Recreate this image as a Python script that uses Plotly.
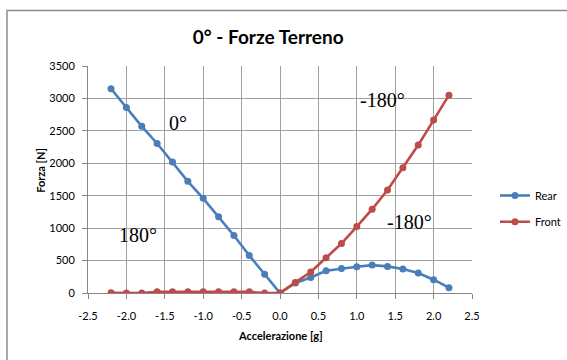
import plotly.graph_objects as go

# Acceleration values [g] shared by both series
accel = [-2.2, -2.0, -1.8, -1.6, -1.4, -1.2, -1.0, -0.8, -0.6, -0.4, -0.2, 0.0,
         0.2, 0.4, 0.6, 0.8, 1.0, 1.2, 1.4, 1.6, 1.8, 2.0, 2.2]

# Ground forces [N]
rear = [3150, 2860, 2570, 2305, 2020, 1722, 1460, 1174, 886, 579, 290, 0,
        155, 240, 343, 379, 405, 430, 410, 370, 308, 205, 82]
front = [5, 0, 0, 18, 18, 18, 18, 18, 18, 18, 0, 0,
         163, 323, 543, 763, 1025, 1292, 1589, 1932, 2281, 2666, 3050]

x_ticks = [-2.5, -2.0, -1.5, -1.0, -0.5, 0.0, 0.5, 1.0, 1.5, 2.0, 2.5]
y_ticks = [0, 500, 1000, 1500, 2000, 2500, 3000, 3500]

# Angle labels placed on the chart: (text, x, y)
angle_labels = [("0°", -1.33, 2620), ("180°", -1.85, 897),
                ("-180°", 1.33, 2975), ("-180°", 1.69, 1096)]

BLUE = "#4A7EBB"
RED = "#BE4B48"
GRID = "#a0a0a0"
SANS = "Lato, Carlito, Calibri, sans-serif"

fig = go.Figure()
fig.add_trace(go.Scatter(x=accel, y=rear, name="Rear", mode="lines+markers",
                         line=dict(color=BLUE, width=2.6),
                         marker=dict(color=BLUE, size=7), legend="legend",
                         showlegend=True))
fig.add_trace(go.Scatter(x=accel, y=front, name="Front", mode="lines+markers",
                         line=dict(color=RED, width=2.6),
                         marker=dict(color=RED, size=7), legend="legend2",
                         showlegend=True))

for text, ax, ay in angle_labels:
    fig.add_annotation(x=ax, y=ay, text=text, showarrow=False,
                       font=dict(family="Liberation Serif, Times New Roman, serif",
                                 size=20, color="black"))

# Y axis title
fig.add_annotation(xref="paper", yref="paper", x=-0.146, y=0.54, text="<b>Forza [N]</b>",
                   showarrow=False, textangle=-90,
                   font=dict(family=SANS, size=11, color="black"))
# X axis title
fig.add_annotation(xref="paper", yref="paper", x=0.5, y=-0.225, text="<b>Accelerazione [g]</b>",
                   showarrow=False, font=dict(family=SANS, size=11, color="black"))

# Outer chart frame
fig.add_shape(type="rect", xref="paper", yref="paper",
              x0=-0.211, x1=1.3, y0=-0.4, y1=1.245,
              line=dict(color="#8c8c8c", width=1.5), layer="below")

fig.update_layout(
    width=567, height=360,
    margin=dict(l=88, r=95, t=66, b=67, autoexpand=False),
    paper_bgcolor="white", plot_bgcolor="white",
    showlegend=True,
    title=dict(text="<b>0° - Forze Terreno</b>", x=0.473, xref="container", xanchor="center",
               y=0.897, yref="container", yanchor="middle",
               font=dict(family=SANS, size=19, color="black")),
    font=dict(family=SANS, size=11, color="black"),
    legend=dict(x=0.873, y=0.457, xref="container", yref="container",
                xanchor="left", yanchor="middle",
                bgcolor="rgba(0,0,0,0)", font=dict(family=SANS, size=11)),
    legend2=dict(x=0.873, y=0.384, xref="container", yref="container",
                 xanchor="left", yanchor="middle",
                 bgcolor="rgba(0,0,0,0)", font=dict(family=SANS, size=11)),
    xaxis=dict(range=[-2.5, 2.5], tickvals=x_ticks,
               ticktext=[f"{v:.1f}" for v in x_ticks],
               showgrid=True, gridcolor=GRID, gridwidth=1,
               zeroline=False, showline=True, linecolor="#868686", linewidth=1,
               ticks="outside", ticklen=5, tickcolor="#868686",
               ticklabelstandoff=8, tickfont=dict(size=11)),
    yaxis=dict(range=[0, 3500], tickvals=y_ticks,
               showgrid=True, gridcolor=GRID, gridwidth=1,
               zeroline=False, showline=True, linecolor="#868686", linewidth=1,
               ticks="outside", ticklen=5, tickcolor="#868686",
               ticklabelstandoff=5, tickfont=dict(size=11)),
)

fig.write_html("out.html")
